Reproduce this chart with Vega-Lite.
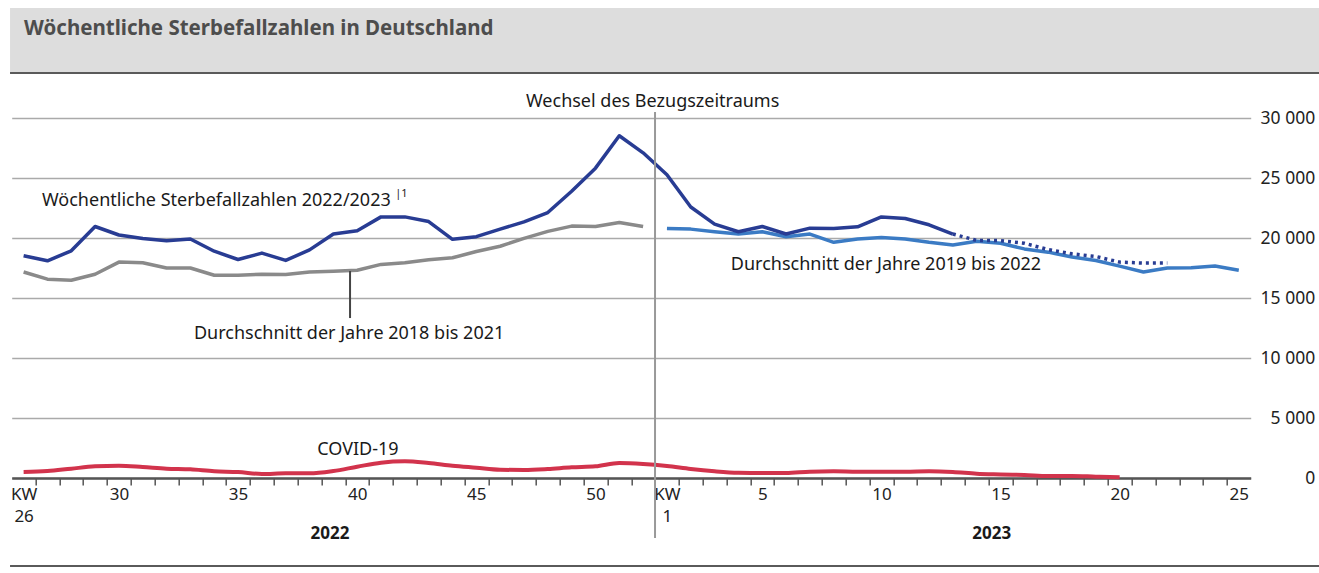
{
  "$schema": "https://vega.github.io/schema/vega-lite/v6.json",
  "width": 1239,
  "height": 360,
  "autosize": {"type": "none"},
  "padding": {"left": 11.7, "top": 118, "right": 68.3, "bottom": 95},
  "background": "white",
  "config": {"view": {"stroke": null}, "font": "Noto Sans"},
  "datasets": {
    "lines": [
      {"s": "2022/2023", "t": 0, "v": 18520}, {"s": "2022/2023", "t": 1, "v": 18100}, {"s": "2022/2023", "t": 2, "v": 18930},
      {"s": "2022/2023", "t": 3, "v": 20960}, {"s": "2022/2023", "t": 4, "v": 20250}, {"s": "2022/2023", "t": 5, "v": 19950},
      {"s": "2022/2023", "t": 6, "v": 19780}, {"s": "2022/2023", "t": 7, "v": 19920}, {"s": "2022/2023", "t": 8, "v": 18900},
      {"s": "2022/2023", "t": 9, "v": 18210}, {"s": "2022/2023", "t": 10, "v": 18740}, {"s": "2022/2023", "t": 11, "v": 18130},
      {"s": "2022/2023", "t": 12, "v": 19010}, {"s": "2022/2023", "t": 13, "v": 20330}, {"s": "2022/2023", "t": 14, "v": 20600},
      {"s": "2022/2023", "t": 15, "v": 21760}, {"s": "2022/2023", "t": 16, "v": 21760}, {"s": "2022/2023", "t": 17, "v": 21370},
      {"s": "2022/2023", "t": 18, "v": 19890}, {"s": "2022/2023", "t": 19, "v": 20110}, {"s": "2022/2023", "t": 20, "v": 20740},
      {"s": "2022/2023", "t": 21, "v": 21350}, {"s": "2022/2023", "t": 22, "v": 22120}, {"s": "2022/2023", "t": 23, "v": 23900},
      {"s": "2022/2023", "t": 24, "v": 25820}, {"s": "2022/2023", "t": 25, "v": 28520}, {"s": "2022/2023", "t": 26, "v": 27100},
      {"s": "2022/2023", "t": 27, "v": 25270}, {"s": "2022/2023", "t": 28, "v": 22580}, {"s": "2022/2023", "t": 29, "v": 21150},
      {"s": "2022/2023", "t": 30, "v": 20520}, {"s": "2022/2023", "t": 31, "v": 20960}, {"s": "2022/2023", "t": 32, "v": 20330},
      {"s": "2022/2023", "t": 33, "v": 20820}, {"s": "2022/2023", "t": 34, "v": 20800}, {"s": "2022/2023", "t": 35, "v": 20930},
      {"s": "2022/2023", "t": 36, "v": 21760}, {"s": "2022/2023", "t": 37, "v": 21620}, {"s": "2022/2023", "t": 38, "v": 21100},
      {"s": "2022/2023", "t": 39, "v": 20330},
      {"s": "vorläufig", "t": 39, "v": 20330}, {"s": "vorläufig", "t": 40, "v": 19800}, {"s": "vorläufig", "t": 41, "v": 19780},
      {"s": "vorläufig", "t": 42, "v": 19560}, {"s": "vorläufig", "t": 43, "v": 19040}, {"s": "vorläufig", "t": 44, "v": 18680},
      {"s": "vorläufig", "t": 45, "v": 18460}, {"s": "vorläufig", "t": 46, "v": 17990}, {"s": "vorläufig", "t": 47, "v": 17910},
      {"s": "vorläufig", "t": 48, "v": 17910},
      {"s": "2018–2021", "t": 0, "v": 17170}, {"s": "2018–2021", "t": 1, "v": 16570}, {"s": "2018–2021", "t": 2, "v": 16480},
      {"s": "2018–2021", "t": 3, "v": 16980}, {"s": "2018–2021", "t": 4, "v": 17990}, {"s": "2018–2021", "t": 5, "v": 17940},
      {"s": "2018–2021", "t": 6, "v": 17500}, {"s": "2018–2021", "t": 7, "v": 17500}, {"s": "2018–2021", "t": 8, "v": 16900},
      {"s": "2018–2021", "t": 9, "v": 16900}, {"s": "2018–2021", "t": 10, "v": 16980}, {"s": "2018–2021", "t": 11, "v": 16950},
      {"s": "2018–2021", "t": 12, "v": 17170}, {"s": "2018–2021", "t": 13, "v": 17230}, {"s": "2018–2021", "t": 14, "v": 17310},
      {"s": "2018–2021", "t": 15, "v": 17800}, {"s": "2018–2021", "t": 16, "v": 17940}, {"s": "2018–2021", "t": 17, "v": 18190},
      {"s": "2018–2021", "t": 18, "v": 18350}, {"s": "2018–2021", "t": 19, "v": 18870}, {"s": "2018–2021", "t": 20, "v": 19310},
      {"s": "2018–2021", "t": 21, "v": 19970}, {"s": "2018–2021", "t": 22, "v": 20550}, {"s": "2018–2021", "t": 23, "v": 20990},
      {"s": "2018–2021", "t": 24, "v": 20960}, {"s": "2018–2021", "t": 25, "v": 21290}, {"s": "2018–2021", "t": 26, "v": 20960},
      {"s": "2019–2022", "t": 27, "v": 20800}, {"s": "2019–2022", "t": 28, "v": 20740}, {"s": "2019–2022", "t": 29, "v": 20520},
      {"s": "2019–2022", "t": 30, "v": 20330}, {"s": "2019–2022", "t": 31, "v": 20520}, {"s": "2019–2022", "t": 32, "v": 20110},
      {"s": "2019–2022", "t": 33, "v": 20330}, {"s": "2019–2022", "t": 34, "v": 19640}, {"s": "2019–2022", "t": 35, "v": 19920},
      {"s": "2019–2022", "t": 36, "v": 20050}, {"s": "2019–2022", "t": 37, "v": 19920}, {"s": "2019–2022", "t": 38, "v": 19640},
      {"s": "2019–2022", "t": 39, "v": 19420}, {"s": "2019–2022", "t": 40, "v": 19730}, {"s": "2019–2022", "t": 41, "v": 19560},
      {"s": "2019–2022", "t": 42, "v": 19090}, {"s": "2019–2022", "t": 43, "v": 18820}, {"s": "2019–2022", "t": 44, "v": 18410},
      {"s": "2019–2022", "t": 45, "v": 18130}, {"s": "2019–2022", "t": 46, "v": 17660}, {"s": "2019–2022", "t": 47, "v": 17170},
      {"s": "2019–2022", "t": 48, "v": 17500}, {"s": "2019–2022", "t": 49, "v": 17530}, {"s": "2019–2022", "t": 50, "v": 17660},
      {"s": "2019–2022", "t": 51, "v": 17310}
    ],
    "covid": [
      {"t": 0, "v": 500}, {"t": 1, "v": 580}, {"t": 2, "v": 780}, {"t": 3, "v": 970}, {"t": 4, "v": 1030}, {"t": 5, "v": 920},
      {"t": 6, "v": 780}, {"t": 7, "v": 720}, {"t": 8, "v": 560}, {"t": 9, "v": 500}, {"t": 10, "v": 330}, {"t": 11, "v": 390},
      {"t": 12, "v": 390}, {"t": 13, "v": 580}, {"t": 14, "v": 940}, {"t": 15, "v": 1280}, {"t": 16, "v": 1390}, {"t": 17, "v": 1250},
      {"t": 18, "v": 1030}, {"t": 19, "v": 860}, {"t": 20, "v": 690}, {"t": 21, "v": 670}, {"t": 22, "v": 750}, {"t": 23, "v": 890},
      {"t": 24, "v": 970}, {"t": 25, "v": 1250}, {"t": 26, "v": 1170}, {"t": 27, "v": 1000}, {"t": 28, "v": 750}, {"t": 29, "v": 560},
      {"t": 30, "v": 440}, {"t": 31, "v": 420}, {"t": 32, "v": 420}, {"t": 33, "v": 530}, {"t": 34, "v": 560}, {"t": 35, "v": 530},
      {"t": 36, "v": 530}, {"t": 37, "v": 530}, {"t": 38, "v": 560}, {"t": 39, "v": 500}, {"t": 40, "v": 360}, {"t": 41, "v": 300},
      {"t": 42, "v": 250}, {"t": 43, "v": 170}, {"t": 44, "v": 170}, {"t": 45, "v": 110}, {"t": 46, "v": 60}
    ]
  },
  "resolve": {"axis": {"x": "independent"}},
  "layer": [
    {
      "data": {"values": [{"t": -0.57, "t2": 54.5, "v": 33750, "v2": 39170}]},
      "mark": {"type": "rect", "color": "#dddddd"},
      "encoding": {
        "x": {"field": "t", "type": "quantitative", "axis": null, "scale": {"domain": [-0.5, 51.5], "nice": false, "zero": false}},
        "x2": {"field": "t2"},
        "y": {
          "field": "v", "type": "quantitative",
          "scale": {"domain": [0, 30000], "nice": false},
          "axis": {
            "orient": "right", "title": null, "values": [0, 5000, 10000, 15000, 20000, 25000, 30000],
            "grid": true, "gridColor": "#aaaaaa", "gridWidth": 1.5, "domain": false, "ticks": false,
            "labelAlign": "right", "labelPadding": 64, "labelFontSize": 17.5, "labelColor": "#222222",
            "labelExpr": "replace(format(datum.value, ','), ',', ' ')"
          }
        },
        "y2": {"field": "v2"}
      }
    },
    {
      "data": {"values": [
        {"t": -0.57, "t2": 54.5, "v": 33750, "k": "a"},
        {"t": -0.57, "t2": 54.5, "v": -7333, "k": "b"}
      ]},
      "mark": {"type": "rule", "color": "#5a5a5a", "strokeWidth": 2},
      "encoding": {
        "x": {"field": "t", "type": "quantitative", "axis": null},
        "x2": {"field": "t2"},
        "y": {"field": "v", "type": "quantitative"}
      }
    },
    {
      "data": {"values": [{"t": 0.02, "v": 37420, "label": "Wöchentliche Sterbefallzahlen in Deutschland"}]},
      "mark": {"type": "text", "align": "left", "baseline": "middle", "fontSize": 20.5, "fontWeight": "bold", "color": "#4d4d4d"},
      "encoding": {
        "x": {"field": "t", "type": "quantitative", "axis": null},
        "y": {"field": "v", "type": "quantitative"},
        "text": {"field": "label"}
      }
    },
    {
      "data": {"name": "lines"},
      "transform": [{"filter": "datum.s == '2018–2021'"}],
      "mark": {"type": "line", "strokeWidth": 3.5, "color": "#8a8a8a", "strokeJoin": "round"},
      "encoding": {
        "x": {
          "field": "t", "type": "quantitative",
          "axis": {
            "orient": "bottom",
            "values": [0.5,1.5,2.5,3.5,4.5,5.5,6.5,7.5,8.5,9.5,10.5,11.5,12.5,13.5,14.5,15.5,16.5,17.5,18.5,19.5,20.5,21.5,22.5,23.5,24.5,25.5,26.5,27.5,28.5,29.5,30.5,31.5,32.5,33.5,34.5,35.5,36.5,37.5,38.5,39.5,40.5,41.5,42.5,43.5,44.5,45.5,46.5,47.5,48.5,49.5,50.5],
            "labels": false, "grid": false, "title": null,
            "domain": true, "domainColor": "#555555", "domainWidth": 2.5,
            "ticks": true, "tickColor": "#555555", "tickWidth": 1.5, "tickSize": 7
          }
        },
        "y": {"field": "v", "type": "quantitative"}
      }
    },
    {
      "data": {"name": "lines"},
      "transform": [{"filter": "datum.s == '2019–2022'"}],
      "mark": {"type": "line", "strokeWidth": 3.5, "color": "#3b7bc4", "strokeJoin": "round"},
      "encoding": {
        "x": {"field": "t", "type": "quantitative", "axis": null},
        "y": {"field": "v", "type": "quantitative"}
      }
    },
    {
      "data": {"name": "lines"},
      "transform": [{"filter": "datum.s == 'vorläufig'"}],
      "mark": {"type": "line", "strokeWidth": 3.5, "color": "#283c93", "strokeDash": [3, 4]},
      "encoding": {
        "x": {"field": "t", "type": "quantitative", "axis": null},
        "y": {"field": "v", "type": "quantitative"}
      }
    },
    {
      "data": {"name": "lines"},
      "transform": [{"filter": "datum.s == '2022/2023'"}],
      "mark": {"type": "line", "strokeWidth": 3.5, "color": "#283c93", "strokeJoin": "round"},
      "encoding": {
        "x": {"field": "t", "type": "quantitative", "axis": null},
        "y": {"field": "v", "type": "quantitative"}
      }
    },
    {
      "data": {"name": "covid"},
      "mark": {"type": "line", "strokeWidth": 4, "color": "#d2334c", "interpolate": "monotone"},
      "encoding": {
        "x": {
          "field": "t", "type": "quantitative",
          "axis": {
            "orient": "bottom",
            "values": [0, 4, 9, 14, 19, 24, 27, 31, 36, 41, 46, 51],
            "labelExpr": "datum.value == 0 ? ['KW', '26'] : datum.value == 27 ? ['KW', '1'] : datum.value < 27 ? '' + (datum.value + 26) : '' + (datum.value - 26)",
            "grid": false, "title": null, "domain": false, "ticks": false,
            "labelFontSize": 17, "labelColor": "#222222", "labelPadding": 8, "labelLineHeight": 22,
            "labelFlush": false, "labelOverlap": false, "labelBaseline": "top"
          }
        },
        "y": {"field": "v", "type": "quantitative"}
      }
    },
    {
      "data": {"values": [
        {"t": 26.5, "v": 30500, "v2": -5000},
        {"t": 13.7, "v": 17250, "v2": 13330}
      ]},
      "mark": {"type": "rule", "color": "#999999", "strokeWidth": 2},
      "encoding": {
        "x": {"field": "t", "type": "quantitative", "axis": null},
        "y": {"field": "v", "type": "quantitative"},
        "y2": {"field": "v2"},
        "strokeWidth": {"condition": {"test": "datum.t < 20", "value": 1}, "value": 2},
        "color": {"condition": {"test": "datum.t < 20", "value": "#444444"}, "value": "#999999"}
      }
    },
    {
      "data": {"values": [
        {"t": 26.4, "v": 31330, "label": "Wechsel des Bezugszeitraums"},
        {"t": 13.66, "v": 12000, "label": "Durchschnitt der Jahre 2018 bis 2021"},
        {"t": 14.03, "v": 2330, "label": "COVID-19"}
      ]},
      "mark": {"type": "text", "align": "center", "baseline": "middle", "fontSize": 18, "color": "#1a1a1a"},
      "encoding": {
        "x": {"field": "t", "type": "quantitative", "axis": null},
        "y": {"field": "v", "type": "quantitative"},
        "text": {"field": "label"}
      }
    },
    {
      "data": {"values": [
        {"t": 0.77, "v": 23080, "label": "Wöchentliche Sterbefallzahlen 2022/2023"},
        {"t": 29.68, "v": 17750, "label": "Durchschnitt der Jahre 2019 bis 2022"}
      ]},
      "mark": {"type": "text", "align": "left", "baseline": "middle", "fontSize": 18, "color": "#1a1a1a"},
      "encoding": {
        "x": {"field": "t", "type": "quantitative", "axis": null},
        "y": {"field": "v", "type": "quantitative"},
        "text": {"field": "label"}
      }
    },
    {
      "data": {"values": [{"t": 15.6, "v": 23670, "label": "|1"}]},
      "mark": {"type": "text", "align": "left", "baseline": "middle", "fontSize": 11, "color": "#1a1a1a"},
      "encoding": {
        "x": {"field": "t", "type": "quantitative", "axis": null},
        "y": {"field": "v", "type": "quantitative"},
        "text": {"field": "label"}
      }
    },
    {
      "data": {"values": [
        {"t": 12.86, "v": -4667, "label": "2022"},
        {"t": 40.63, "v": -4667, "label": "2023"}
      ]},
      "mark": {"type": "text", "align": "center", "baseline": "middle", "fontSize": 17, "fontWeight": "bold", "color": "#1a1a1a"},
      "encoding": {
        "x": {"field": "t", "type": "quantitative", "axis": null},
        "y": {"field": "v", "type": "quantitative"},
        "text": {"field": "label"}
      }
    }
  ]
}
